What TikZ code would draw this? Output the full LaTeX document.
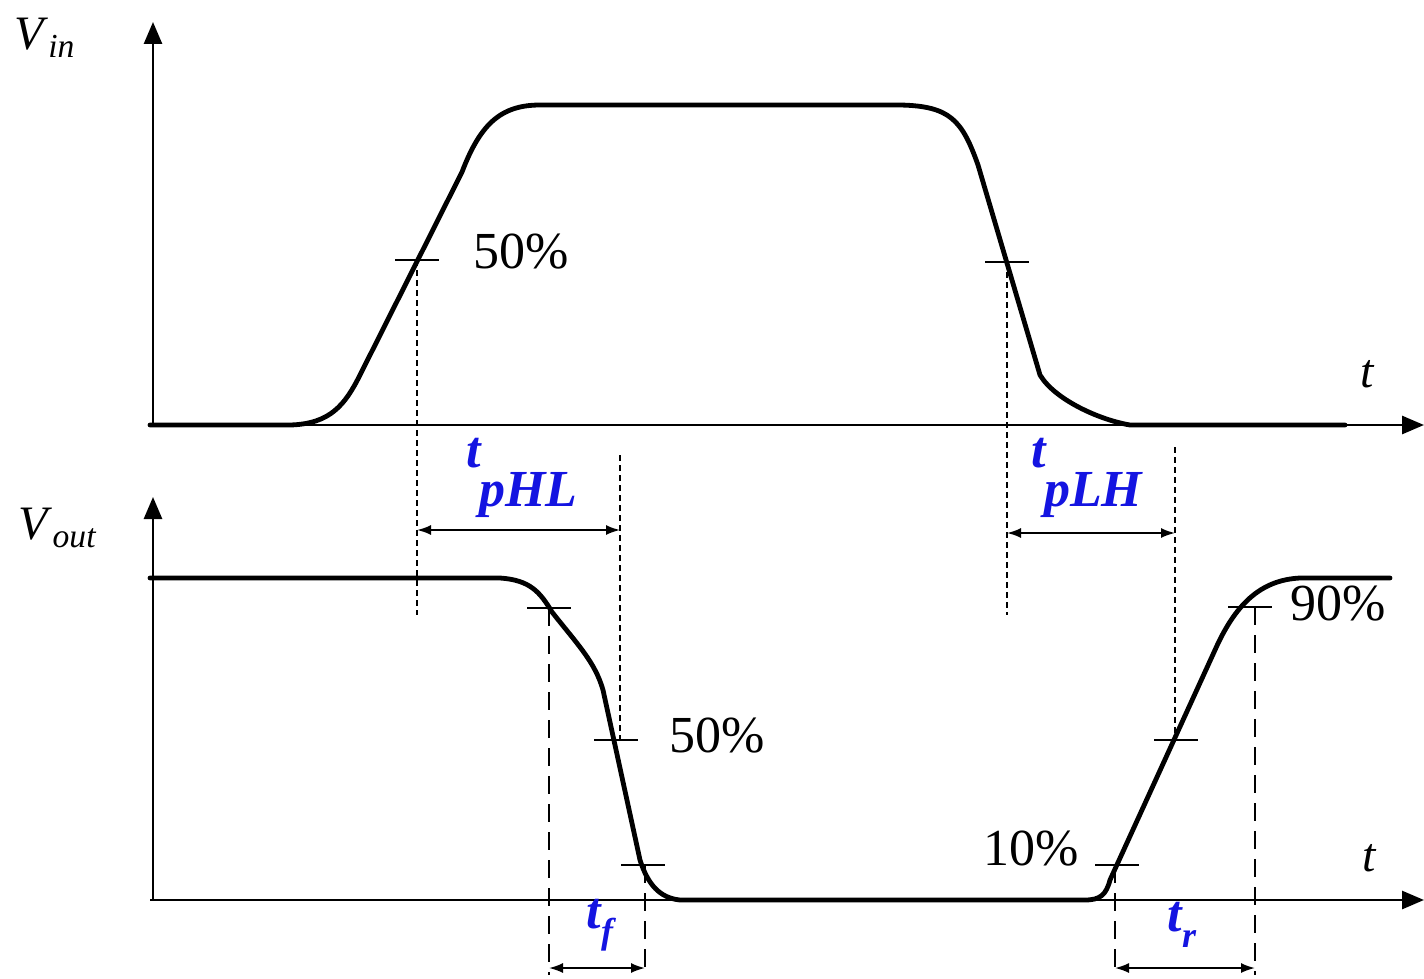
\documentclass[tikz,border=0pt]{standalone}
\usepackage{fontspec}
\setmainfont{Liberation Serif}
\usepackage{tikz}
\usetikzlibrary{arrows.meta}
\definecolor{tblue}{RGB}{20,20,225}
\tikzset{
  axis/.style={line width=1.4pt,-{Triangle[length=11pt,width=9pt]}},
  wave/.style={line width=2.4pt,line join=round,line cap=round},
  tickmark/.style={line width=0.9pt},
  guide/.style={line width=0.9pt,dash pattern=on 3pt off 2pt},
  guidelong/.style={line width=0.9pt,dash pattern=on 9pt off 5pt},
  dim/.style={line width=0.9pt,{Latex[length=7pt,width=5pt]}-{Latex[length=7pt,width=5pt]}},
  plab/.style={font=\fontsize{26}{28}\selectfont},
  alab/.style={font=\fontsize{24}{26}\selectfont},
  tlab/.style={font=\fontsize{26}{28}\selectfont\bfseries\itshape,text=tblue}
}

\begin{document}
\begin{tikzpicture}[x=0.5pt,y=-0.5pt]
  \useasboundingbox (0,0) rectangle (1424,979);
  % axes
  \coordinate (o1) at (153,425);
  \coordinate (o2) at (153,900);
  \draw[axis] (o1) -- (153,22);
  \draw[axis] (150,425) -- (1424,425);
  \draw[axis] (o2) -- (153,497);
  \draw[axis] (150,900) -- (1424,900);
  \node[alab] (vin) at (45,38) {\textit{V}\textsubscript{\textit{in}}};
  \node[alab] (vout) at (58,528) {\textit{V}\textsubscript{\textit{out}}};
  \node[alab] (t1) at (1368,374) {\textit{t}};
  \node[alab] (t2) at (1370,858) {\textit{t}};
  % input and output waveforms
  \draw[wave] (150,425) -- (290,425) .. controls (330,424) and (345,405) .. (360,375)
    -- (462,172) .. controls (480,125) and (500,105) .. (540,105) -- (900,105)
    .. controls (950,106) and (962,120) .. (978,165) -- (1040,375)
    .. controls (1055,400) and (1100,420) .. (1130,425) -- (1345,425);
  \draw[wave] (150,578) -- (500,578) .. controls (530,580) and (540,592) .. (552,612)
    .. controls (578,645) and (595,662) .. (603,690) -- (640,860)
    .. controls (648,885) and (660,898) .. (680,900) -- (1085,900)
    .. controls (1100,900) and (1106,895) .. (1110,880) -- (1215,650)
    .. controls (1235,605) and (1260,580) .. (1300,578) -- (1390,578);
  % level marks
  \foreach \n/\x/\y in {inr/417/260, inf/1007/262, o90f/549/608, o50f/616/740, o10f/643/865, o10r/1117/865, o50r/1176/740, o90r/1250/607}{
    \coordinate (\n) at (\x,\y);
    \draw[tickmark] (\x-22,\y) -- (\x+22,\y);
  }
  \node[plab,anchor=west] (p1) at (466,252) {50\%};
  \node[plab,anchor=west] (p2) at (662,736) {50\%};
  \node[plab,anchor=east] (p3) at (1086,849) {10\%};
  \node[plab,anchor=west] (p4) at (1283,604) {90\%};
  % guides
  \coordinate (inr-end) at (417,615);
  \coordinate (inf-end) at (1007,615);
  \coordinate (o50f-top) at (620,455);
  \coordinate (o50r-top) at (1175,447);
  \coordinate (o90f-end) at (549,975);
  \coordinate (o10f-end) at (645,975);
  \coordinate (o10r-end) at (1115,975);
  \coordinate (o90r-end) at (1255,975);
  \draw[guide] (inr) -- (inr-end);
  \draw[guide] (inf) -- (inf-end);
  \draw[guide] (o50f-top) -- (o50f-top |- o50f);
  \draw[guide] (o50r-top) -- (o50r-top |- o50r);
  \draw[guidelong] (o90f) -- (o90f-end);
  \draw[guidelong] (o10f-end |- o10f) -- (o10f-end);
  \draw[guidelong] (o10r-end |- o10r) -- (o10r-end);
  \draw[guidelong] (o90r-end |- o90r) -- (o90r-end);
  % delays and edges
  \coordinate (hl1) at (417,530);
  \coordinate (hl2) at (620,530);
  \coordinate (lh1) at (1007,533);
  \coordinate (lh2) at (1175,533);
  \coordinate (f1) at (549,968);
  \coordinate (f2) at (645,968);
  \coordinate (r1) at (1115,968);
  \coordinate (r2) at (1255,968);
  \draw[dim] (hl1) -- (hl2);
  \draw[dim] (lh1) -- (lh2);
  \draw[dim] (f1) -- (f2);
  \draw[dim] (r1) -- (r2);
  \node[tlab] (tphl) at (522,478) {\raisebox{0.25em}{t}\kern-1pt\raisebox{-0.5em}{pHL}};
  \node[tlab] (tplh) at (1087,478) {\raisebox{0.25em}{t}\kern-1pt\raisebox{-0.5em}{pLH}};
  \node[tlab] (tf) at (600,925) {t\raisebox{-0.3em}{\fontsize{18}{20}\selectfont f}};
  \node[tlab] (tr) at (1182,925) {t\raisebox{-0.3em}{\fontsize{18}{20}\selectfont r}};
\end{tikzpicture}
\end{document}
